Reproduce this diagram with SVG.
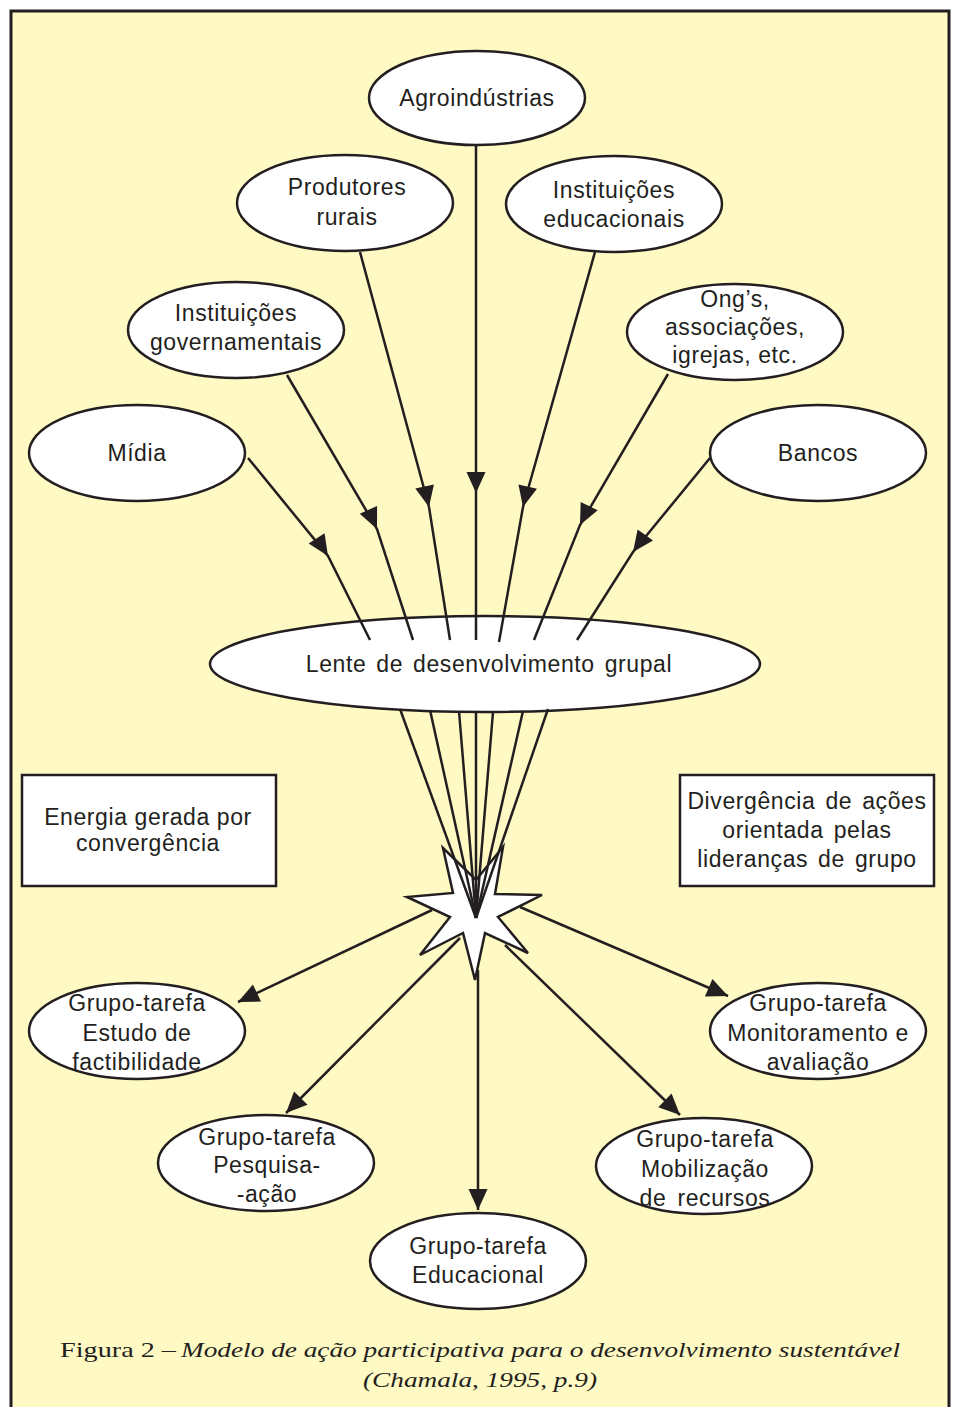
<svg xmlns="http://www.w3.org/2000/svg" width="954" height="1407" viewBox="0 0 954 1407">
<style>
.bg{fill:#FFF9C4;stroke:#231f20;stroke-width:3}
.n{fill:#fff;stroke:#231f20;stroke-width:2.5}
.t{font-family:"Liberation Sans",Arial,sans-serif;font-size:23px;letter-spacing:0.6px;fill:#231f20;text-anchor:middle}
.c{fill:none;stroke:#231f20;stroke-width:2.5}
.cap{font-family:"Liberation Serif","Times New Roman",serif;font-size:22px;fill:#231f20}
</style>
<defs>
<marker id="mid" markerUnits="userSpaceOnUse" markerWidth="26" markerHeight="24" viewBox="-23 -12 26 24" refX="0" refY="0" orient="auto">
<path d="M0,0 L-21,-9.5 L-21,9.5 Z" fill="#231f20"/>
</marker>
<marker id="end" markerUnits="userSpaceOnUse" markerWidth="26" markerHeight="24" viewBox="-23 -12 26 24" refX="0" refY="0" orient="auto">
<path d="M0,0 L-21,-9.5 L-21,9.5 Z" fill="#231f20"/>
</marker>
</defs>
<rect class="bg" x="11" y="11" width="938" height="1410"/>

<g id="agroindustrias"><ellipse class="n" cx="477" cy="98" rx="108" ry="47"/><text class="t" x="477" y="106">Agroindústrias</text></g>
<g id="produtores"><ellipse class="n" cx="345" cy="203" rx="108" ry="48"/><text class="t" x="347" y="195">Produtores</text><text class="t" x="347" y="225">rurais</text></g>
<g id="inst-educacionais"><ellipse class="n" cx="614" cy="204" rx="108" ry="48"/><text class="t" x="614" y="198">Instituições</text><text class="t" x="614" y="227">educacionais</text></g>
<g id="inst-governamentais"><ellipse class="n" cx="236" cy="330" rx="108" ry="48"/><text class="t" x="236" y="321">Instituições</text><text class="t" x="236" y="350">governamentais</text></g>
<g id="ongs"><ellipse class="n" cx="735" cy="332" rx="108" ry="48"/><text class="t" x="735" y="307">Ong’s,</text><text class="t" x="735" y="335">associações,</text><text class="t" x="735" y="363">igrejas, etc.</text></g>
<g id="midia"><ellipse class="n" cx="137" cy="453" rx="108" ry="48"/><text class="t" x="137" y="461">Mídia</text></g>
<g id="bancos"><ellipse class="n" cx="818" cy="453" rx="108" ry="48"/><text class="t" x="818" y="461">Bancos</text></g>
<g id="lente"><ellipse class="n" cx="485" cy="664" rx="275" ry="48"/><text class="t" x="489" y="672" style="word-spacing:3px">Lente de desenvolvimento grupal</text></g>

<g id="energia"><rect class="n" x="22" y="775" width="254" height="111"/><text class="t" x="148" y="825">Energia gerada por</text><text class="t" x="148" y="851">convergência</text></g>
<g id="divergencia"><rect class="n" x="680" y="775" width="254" height="111"/><text class="t" x="807" y="809" style="word-spacing:3px">Divergência de ações</text><text class="t" x="807" y="838" style="word-spacing:3px">orientada pelas</text><text class="t" x="807" y="867" style="word-spacing:3px">lideranças de grupo</text></g>

<g id="estrela"><polygon class="n" points="443,848 476,880 503,847 495,894 542,895 498,917 528,953 485,933 475,980 463,933 420,955 450,917 407,897 453,893"/></g>

<g id="estudo"><ellipse class="n" cx="137" cy="1031" rx="108" ry="48"/><text class="t" x="137" y="1011">Grupo-tarefa</text><text class="t" x="137" y="1041">Estudo de</text><text class="t" x="137" y="1070">factibilidade</text></g>
<g id="monitoramento"><ellipse class="n" cx="818" cy="1031" rx="108" ry="48"/><text class="t" x="818" y="1011">Grupo-tarefa</text><text class="t" x="818" y="1041">Monitoramento e</text><text class="t" x="818" y="1070">avaliação</text></g>
<g id="pesquisa"><ellipse class="n" cx="266" cy="1163" rx="108" ry="48"/><text class="t" x="267" y="1145">Grupo-tarefa</text><text class="t" x="267" y="1173">Pesquisa-</text><text class="t" x="267" y="1202">-ação</text></g>
<g id="mobilizacao"><ellipse class="n" cx="704" cy="1166" rx="108" ry="48"/><text class="t" x="705" y="1147">Grupo-tarefa</text><text class="t" x="705" y="1177">Mobilização</text><text class="t" x="705" y="1206" style="word-spacing:4px">de recursos</text></g>
<g id="educacional"><ellipse class="n" cx="478" cy="1261" rx="108" ry="48"/><text class="t" x="478" y="1254">Grupo-tarefa</text><text class="t" x="478" y="1283">Educacional</text></g>

<g id="connectors">
<path class="c" marker-mid="url(#mid)" d="M248,458 L328,556 L370,640"/>
<path class="c" marker-mid="url(#mid)" d="M287,375 L377,529 L413,640"/>
<path class="c" marker-mid="url(#mid)" d="M360,252 L429,507 L450,640"/>
<path class="c" marker-mid="url(#mid)" d="M476,146 L476,493 L476,640"/>
<path class="c" marker-mid="url(#mid)" d="M595,252 L523,507 L499,642"/>
<path class="c" marker-mid="url(#mid)" d="M668,374 L580,525 L534,640"/>
<path class="c" marker-mid="url(#mid)" d="M710,458 L633,552 L577,640"/>

<path class="c" d="M400,709 L476,918"/>
<path class="c" d="M430,710 L476,918"/>
<path class="c" d="M459,711 L476,918"/>
<path class="c" d="M476,712 L476,918"/>
<path class="c" d="M493,712 L476,918"/>
<path class="c" d="M523,711 L476,918"/>
<path class="c" d="M548,709 L476,918"/>

<path class="c" marker-end="url(#end)" d="M432,910 L238,1002"/>
<path class="c" marker-end="url(#end)" d="M460,938 L286,1113"/>
<path class="c" marker-end="url(#end)" d="M478,970 L478,1210"/>
<path class="c" marker-end="url(#end)" d="M505,945 L680,1115"/>
<path class="c" marker-end="url(#end)" d="M520,907 L728,996"/>
</g>

<g id="caption">
<text class="cap" x="60" y="1357" textLength="116" lengthAdjust="spacingAndGlyphs">Figura 2 –</text>
<text class="cap" x="181" y="1357" font-style="italic" textLength="719" lengthAdjust="spacingAndGlyphs">Modelo de ação participativa para o desenvolvimento sustentável</text>
<text class="cap" x="363" y="1387" font-style="italic" textLength="234" lengthAdjust="spacingAndGlyphs">(Chamala, 1995, p.9)</text>
</g>
</svg>
